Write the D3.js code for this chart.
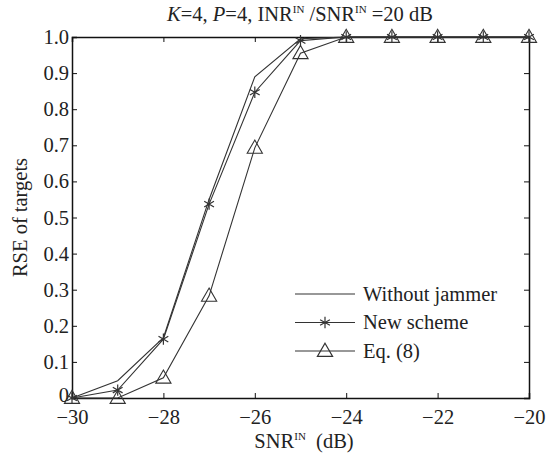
<!DOCTYPE html>
<html>
<head>
<meta charset="utf-8">
<script src="https://cdn.jsdelivr.net/npm/d3@7"></script>
<style>
  body { margin: 0; background: #fff; }
  text { font-family: "Liberation Serif", "DejaVu Serif", serif; fill: #222; }
</style>
</head>
<body>
<script>
// data
const snr = [-30, -29, -28, -27, -26, -25, -24, -23, -22, -21, -20];
const withoutJammer = [0, 0.048, 0.167, 0.55, 0.89, 0.995, 1, 1, 1, 1, 1];
const newScheme = [0, 0.022, 0.163, 0.537, 0.847, 0.99, 1, 1, 1, 1, 1];
const eq8 = [0, 0, 0.056, 0.283, 0.693, 0.955, 1, 1, 1, 1, 1];
const xTicks = [-30, -28, -26, -24, -22, -20];
const yTicks = [0, 0.1, 0.2, 0.3, 0.4, 0.5, 0.6, 0.7, 0.8, 0.9, 1.0];

const width = 552, height = 457;
const margin = { top: 37, right: 23, bottom: 59, left: 72 };
const color = "#333";
const fs = 20.5;

const svg = d3.select("body").append("svg")
  .attr("width", width)
  .attr("height", height);

const x = d3.scaleLinear().domain([-30, -20]).range([margin.left, width - margin.right]);
const y = d3.scaleLinear().domain([0, 1]).range([height - margin.bottom, margin.top]);

// axes, ticks pointing inward
const tickLen = 5;
svg.append("g")
  .attr("transform", `translate(0,${y(0)})`)
  .call(d3.axisBottom(x).tickValues(xTicks).tickSize(-tickLen).tickPadding(11)
    .tickFormat(d => d3.format("d")(d).replace("-", "\u2212")))
  .call(g => g.selectAll("text").attr("font-size", fs).attr("dy", "0.75em"));

svg.append("g")
  .attr("transform", `translate(0,${y(1)})`)
  .call(d3.axisTop(x).tickValues(xTicks).tickSize(-tickLen).tickFormat(""));

svg.append("g")
  .attr("transform", `translate(${x(-30)},0)`)
  .call(d3.axisLeft(y).tickValues(yTicks).tickSize(-tickLen).tickPadding(3)
    .tickFormat(d => d === 0 ? "0" : d3.format(".1f")(d)))
  .call(g => g.selectAll("text").attr("font-size", fs)
    .attr("dy", d => d === 0 ? "0.15em" : "0.32em"));

svg.append("g")
  .attr("transform", `translate(${x(-20)},0)`)
  .call(d3.axisRight(y).tickValues(yTicks).tickSize(-tickLen).tickFormat(""));

svg.selectAll(".domain").attr("stroke", "#111").attr("stroke-width", 1.5);
svg.selectAll(".tick line").attr("stroke", "#111");

// lines
const line = d3.line().x((d, i) => x(snr[i])).y(d => y(d));
[withoutJammer, newScheme, eq8].forEach(s => {
  svg.append("path")
    .attr("d", line(s))
    .attr("fill", "none")
    .attr("stroke", color)
    .attr("stroke-width", 1.1);
});

// markers
const star = d3.symbol().type(d3.symbolAsterisk).size(90);
const tri = d3.symbol().type(d3.symbolTriangle).size(100);

svg.append("g").selectAll("path")
  .data(newScheme)
  .join("path")
  .attr("transform", (d, i) => `translate(${x(snr[i])},${y(d)})`)
  .attr("d", star)
  .attr("fill", "none")
  .attr("stroke", color)
  .attr("stroke-width", 1.2);

svg.append("g").selectAll("path")
  .data(eq8)
  .join("path")
  .attr("transform", (d, i) => `translate(${x(snr[i])},${y(d) + 1})`)
  .attr("d", tri)
  .attr("fill", "none")
  .attr("stroke", color)
  .attr("stroke-width", 1.1);

// legend
const legend = [
  { name: "Without jammer", marker: null },
  { name: "New scheme", marker: star },
  { name: "Eq. (8)", marker: tri }
];
const lg = svg.append("g").attr("transform", "translate(295,294)");
legend.forEach((l, i) => {
  const row = lg.append("g").attr("transform", `translate(0,${i * 28.5})`);
  row.append("line").attr("x1", 0).attr("x2", 60)
    .attr("stroke", color).attr("stroke-width", 1.1);
  if (l.marker) {
    row.append("path").attr("d", l.marker)
      .attr("transform", `translate(30,${l.marker === tri ? 1 : 0})`)
      .attr("fill", "none").attr("stroke", color).attr("stroke-width", 1.2);
  }
  row.append("text").attr("x", 68).attr("dy", "0.33em")
    .attr("font-size", fs).text(l.name);
});

// title
const title = svg.append("text")
  .attr("x", 300).attr("y", 21)
  .attr("text-anchor", "middle")
  .attr("font-size", fs);
title.append("tspan").attr("font-style", "italic").text("K");
title.append("tspan").text("=4, ");
title.append("tspan").attr("font-style", "italic").text("P");
title.append("tspan").text("=4, INR");
title.append("tspan").attr("font-size", 11).attr("dy", -8).text("IN");
title.append("tspan").attr("dy", 8).text(" /SNR");
title.append("tspan").attr("font-size", 11).attr("dy", -8).text("IN");
title.append("tspan").attr("dy", 8).text(" =20 dB");

// x label
const xl = svg.append("text")
  .attr("x", 304).attr("y", 448)
  .attr("text-anchor", "middle")
  .attr("font-size", fs);
xl.append("tspan").text("SNR");
xl.append("tspan").attr("font-size", 11).attr("dy", -8).text("IN");
xl.append("tspan").attr("dy", 8).text("\u00a0\u00a0(dB)");

// y label
svg.append("text")
  .attr("transform", `translate(27,${(y(0) + y(1)) / 2}) rotate(-90)`)
  .attr("text-anchor", "middle")
  .attr("font-size", fs)
  .text("RSE of targets");
</script>
</body>
</html>
